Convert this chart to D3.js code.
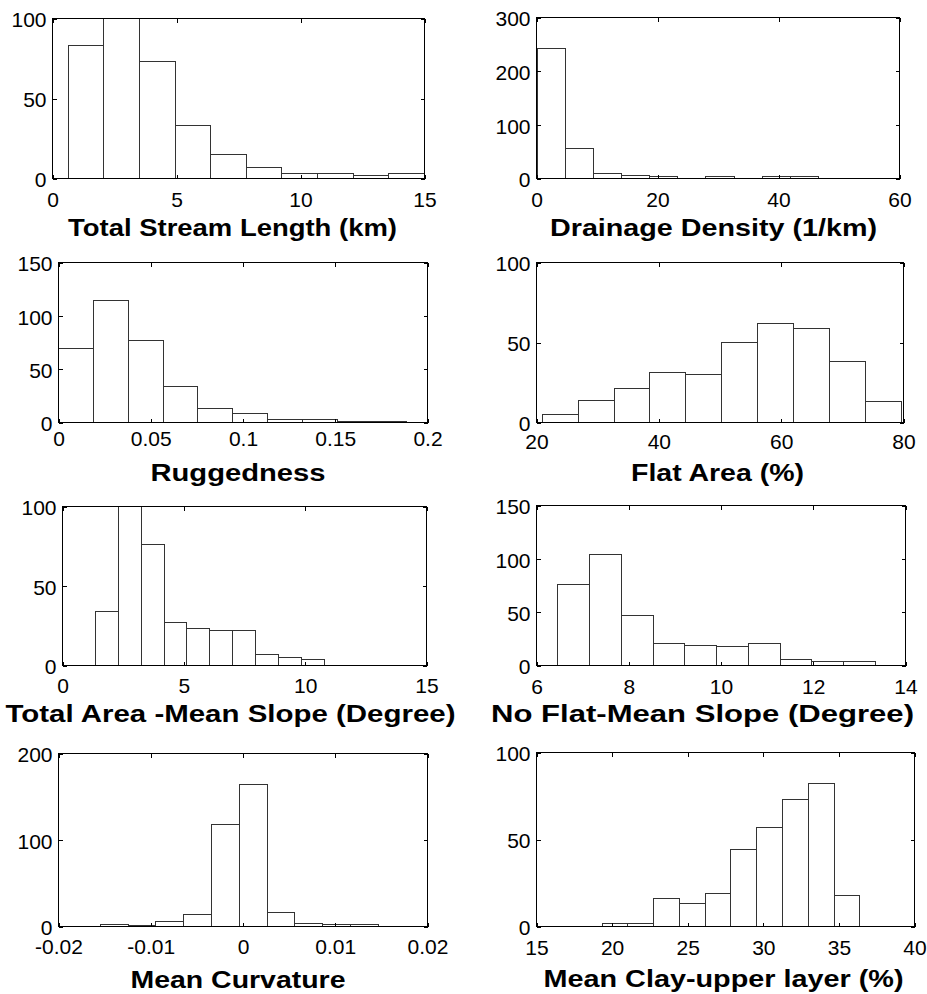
<!DOCTYPE html>
<html>
<head>
<meta charset="utf-8">
<script src="https://cdn.jsdelivr.net/npm/d3@7"></script>
<style>
  html, body { margin: 0; padding: 0; background: #fff; }
  svg { display: block; }
</style>
</head>
<body>
<svg id="chart" width="927" height="994"></svg>
<script>
// Watershed attribute histograms (counts per bin)

const titles = [
  "Total Stream Length (km)",
  "Drainage Density (1/km)",
  "Ruggedness",
  "Flat Area (%)",
  "Total Area -Mean Slope (Degree)",
  "No Flat-Mean Slope (Degree)",
  "Mean Curvature",
  "Mean Clay-upper layer (%)"
];

const xDomains = [[0, 15], [0, 60], [0, 0.2], [20, 80], [0, 15], [6, 14], [-0.02, 0.02], [15, 40]];
const yDomains = [[0, 100], [0, 300], [0, 150], [0, 100], [0, 100], [0, 150], [0, 200], [0, 100]];

const xTickValues = [
  [0, 5, 10, 15],
  [0, 20, 40, 60],
  [0, 0.05, 0.1, 0.15, 0.2],
  [20, 40, 60, 80],
  [0, 5, 10, 15],
  [6, 8, 10, 12, 14],
  [-0.02, -0.01, 0, 0.01, 0.02],
  [15, 20, 25, 30, 35, 40]
];
const yTickValues = [
  [0, 50, 100],
  [0, 100, 200, 300],
  [0, 50, 100, 150],
  [0, 50, 100],
  [0, 50, 100],
  [0, 50, 100, 150],
  [0, 100, 200],
  [0, 50, 100]
];

// data range [min, max] covered by the ten equal-width bins
const binRanges = [
  [0.63, 15.0],
  [0.1, 46.6],
  [0.0, 0.1888],
  [20.93, 79.67],
  [1.36, 10.78],
  [6.46, 13.35],
  [-0.01548, 0.01468],
  [19.34, 36.38]
];

const counts = [
  [83, 101, 73, 33, 15, 7, 3, 3, 2, 3],
  [243, 55, 9, 6, 3, 0, 3, 0, 3, 3],
  [69, 114, 77, 34, 13, 8, 3, 3, 1, 1],
  [5, 14, 21, 31, 30, 50, 62, 59, 38, 13],
  [34, 103, 76, 27, 23, 22, 22, 7, 5, 4],
  [76, 104, 47, 21, 19, 18, 21, 6, 4, 4],
  [2, 1, 6, 14, 118, 164, 16, 4, 2, 2],
  [2, 2, 16, 13, 19, 44, 57, 73, 82, 18]
];

// panel placement on the page
const layout = [
  { x0: 52,  x1: 424, y0: 18,  y1: 178, tickDy: 28,   tx: 232,   ty: 235, tw: 329 },
  { x0: 536, x1: 899, y0: 17,  y1: 178, tickDy: 28.5, tx: 713,   ty: 235, tw: 327 },
  { x0: 58,  x1: 427, y0: 262, y1: 422, tickDy: 23.5, tx: 237.5, ty: 480, tw: 175 },
  { x0: 536, x1: 903, y0: 262, y1: 422, tickDy: 26,   tx: 717,   ty: 480, tw: 173 },
  { x0: 62,  x1: 426, y0: 506, y1: 665, tickDy: 27,   tx: 230,   ty: 721, tw: 450 },
  { x0: 536, x1: 905, y0: 505, y1: 665, tickDy: 28,   tx: 702,   ty: 721, tw: 423 },
  { x0: 58,  x1: 427, y0: 753, y1: 926, tickDy: 27,   tx: 237.5, ty: 987, tw: 215 },
  { x0: 536, x1: 914, y0: 752, y1: 926, tickDy: 28,   tx: 723,   ty: 986, tw: 360 }
];

const FONT = "'Liberation Sans', Arial, Helvetica, sans-serif";
const TICK_FONT = 21;
const TICK_LEN = 4;

const svg = d3.select("#chart");
const root = svg.append("g").attr("transform", "translate(0.5,0.5)");
const defs = svg.append("defs");

const fmt = d => String(d);

titles.forEach((title, i) => {
  const L = layout[i];
  const x = d3.scaleLinear().domain(xDomains[i]).range([L.x0, L.x1]);
  const y = d3.scaleLinear().domain(yDomains[i]).range([L.y1, L.y0]);
  const g = root.append("g").attr("class", "panel");

  defs.append("clipPath").attr("id", "clip" + i)
    .append("rect")
    .attr("x", L.x0 - 0.5).attr("y", L.y0 - 0.5)
    .attr("width", L.x1 - L.x0 + 1).attr("height", L.y1 - L.y0 + 1);

  // histogram bins
  const [lo, hi] = binRanges[i];
  const n = counts[i].length;
  const w = (hi - lo) / n;
  const bins = counts[i].map((c, k) => ({ a: lo + k * w, b: lo + (k + 1) * w, c }));

  g.append("g").attr("clip-path", `url(#clip${i})`)
    .selectAll("rect").data(bins.filter(d => d.c > 0)).join("rect")
    .attr("x", d => Math.round(x(d.a)))
    .attr("y", d => Math.round(y(d.c)))
    .attr("width", d => Math.round(x(d.b)) - Math.round(x(d.a)))
    .attr("height", d => Math.round(y(0)) - Math.round(y(d.c)))
    .attr("fill", "#fff")
    .attr("stroke", "#333")
    .attr("stroke-width", 1)
    .attr("shape-rendering", "crispEdges");

  // axes with inward ticks on all four sides
  const bottom = g.append("g").attr("transform", `translate(0,${L.y1})`)
    .call(d3.axisBottom(x).tickValues(xTickValues[i]).tickFormat(fmt)
      .tickSizeInner(-TICK_LEN).tickSizeOuter(0).tickPadding(L.tickDy - 0.71 * TICK_FONT));
  const left = g.append("g").attr("transform", `translate(${L.x0},0)`)
    .call(d3.axisLeft(y).tickValues(yTickValues[i]).tickFormat(fmt)
      .tickSizeInner(-TICK_LEN).tickSizeOuter(0).tickPadding(6));
  const top = g.append("g").attr("transform", `translate(0,${L.y0})`)
    .call(d3.axisTop(x).tickValues(xTickValues[i]).tickFormat("")
      .tickSizeInner(-TICK_LEN).tickSizeOuter(0));
  const right = g.append("g").attr("transform", `translate(${L.x1},0)`)
    .call(d3.axisRight(y).tickValues(yTickValues[i]).tickFormat("")
      .tickSizeInner(-TICK_LEN).tickSizeOuter(0));

  [bottom, left, top, right].forEach(ax => {
    ax.select(".domain").remove();
    ax.selectAll("line").attr("stroke", "#000").attr("shape-rendering", "crispEdges");
    ax.selectAll("text")
      .attr("fill", "#000")
      .style("font-family", FONT)
      .style("font-size", TICK_FONT + "px");
  });
  left.selectAll("text").attr("dy", "0.40em");

  // axes box
  g.append("rect")
    .attr("x", L.x0).attr("y", L.y0)
    .attr("width", L.x1 - L.x0).attr("height", L.y1 - L.y0)
    .attr("fill", "none").attr("stroke", "#000").attr("stroke-width", 1)
    .attr("shape-rendering", "crispEdges");

  // x-axis title
  g.append("text")
    .attr("x", L.tx).attr("y", L.ty)
    .attr("text-anchor", "middle")
    .attr("textLength", L.tw)
    .attr("lengthAdjust", "spacingAndGlyphs")
    .style("font-family", FONT)
    .style("font-weight", "bold")
    .style("font-size", "23.5px")
    .attr("fill", "#000")
    .text(title);
});
</script>
</body>
</html>
